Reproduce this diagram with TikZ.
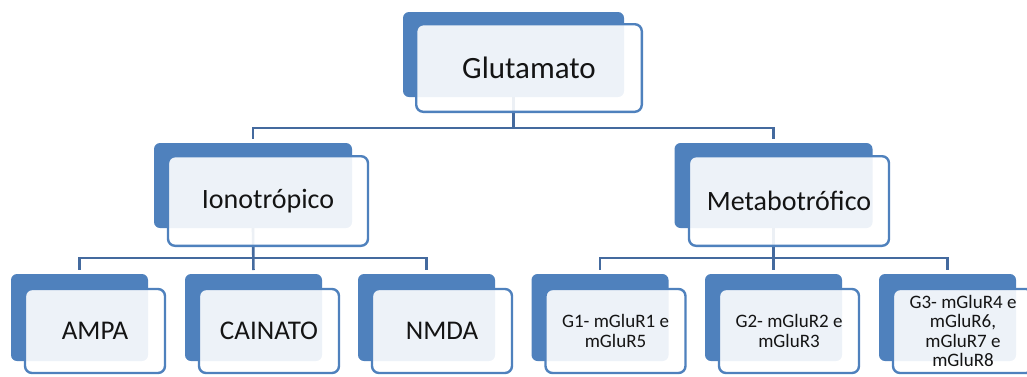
\documentclass[tikz,border=0pt]{standalone}
\usepackage{fontspec}
\setmainfont{Carlito}
\definecolor{boxblue}{RGB}{79,129,189}
\definecolor{linkblue}{RGB}{68,106,158}
\definecolor{ink}{RGB}{20,20,20}
\begin{document}
\begin{tikzpicture}[x=1pt,y=-1pt,
  backbox/.style={fill=boxblue, rounded corners=6pt, inner sep=0pt, outer sep=0pt},
  frontbox/.style={draw=boxblue, line width=2.4pt, fill=white, fill opacity=0.9,
    text opacity=1, rounded corners=7pt, inner sep=0pt, outer sep=0pt,
    align=center, text=ink},
  link/.style={draw=linkblue, line width=2.6pt, shorten >=4pt},
  toptext/.style={font=\fontsize{31}{36}\selectfont},
  midtext/.style={font=\fontsize{28}{33}\selectfont},
  leaftext/.style={font=\fontsize{27}{32}\selectfont},
  smalltext/.style={font=\fontsize{19}{19.5}\selectfont},
  topback/.style={backbox, minimum width=221pt, minimum height=85pt},
  topfront/.style={frontbox, minimum width=225.6pt, minimum height=87.6pt},
  midback/.style={backbox, minimum width=198pt, minimum height=85pt},
  midfront/.style={frontbox, minimum width=200pt, minimum height=89.6pt},
  leafback/.style={backbox, minimum width=137pt, minimum height=87pt},
  leaffront/.style={frontbox, minimum width=140pt, minimum height=84pt},
]
\useasboundingbox (0,0) rectangle (1027,376);

% filled back plates
\node[topback]  (glub)   at (513.5,54.5) {};
\node[midback]  (ionob)  at (253,185.5) {};
\node[midback]  (metab)  at (773.5,185.5) {};
\node[leafback] (ampab)  at (79.5,317.5) {};
\node[leafback] (cainb)  at (253.5,317.5) {};
\node[leafback] (nmdab)  at (426.5,317.5) {};
\node[leafback] (g1b)    at (600,317.5) {};
\node[leafback] (g2b)    at (773.5,317.5) {};
\node[leafback] (g3b)    at (947.5,317.5) {};

% bus levels
\coordinate (bus1) at (0,128);
\coordinate (bus2) at (0,258);

% connectors
\draw[link] (glub.south) -- (glub.south |- bus1) -| (ionob.north);
\draw[link] (glub.south |- bus1) -| (metab.north);

\draw[link] (ionob.south) -- (cainb.north);
\draw[link] (ionob.south |- bus2) -| (ampab.north);
\draw[link] (ionob.south |- bus2) -| (nmdab.north);

\draw[link] (metab.south) -- (g2b.north);
\draw[link] (metab.south |- bus2) -| (g1b.north);
\draw[link] (metab.south |- bus2) -| (g3b.north);

% framed front cards with labels
\node[topfront, toptext]   (glu)  at (529,68)    {Glutamato};
\node[midfront, midtext]   (iono) at (268,201)   {Ionotrópico};
\node[midfront, midtext]   (meta) at (789,201)   {Metabotrófico};
\node[leaffront, leaftext] (ampa) at (95,331)    {AMPA};
\node[leaffront, leaftext] (cain) at (269,331)   {CAINATO};
\node[leaffront, leaftext] (nmda) at (442,331)   {NMDA};
\node[leaffront, smalltext] (g1)  at (615.5,331) {G1- mGluR1 e\\mGluR5};
\node[leaffront, smalltext] (g2)  at (789,331)   {G2- mGluR2 e\\mGluR3};
\node[leaffront, smalltext] (g3)  at (963,331)   {G3- mGluR4 e\\mGluR6,\\mGluR7 e\\mGluR8};
\end{tikzpicture}
\end{document}
